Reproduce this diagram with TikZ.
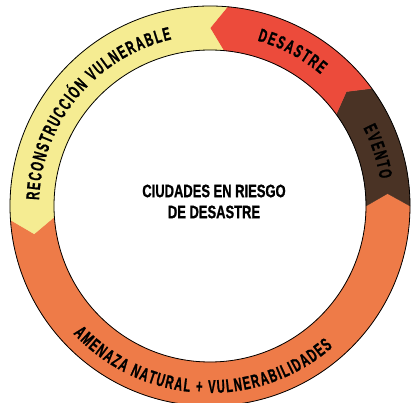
\documentclass[tikz,border=0pt]{standalone}
\usepackage{fontspec}
\usepackage{tikz}
\usetikzlibrary{decorations.text}
\newfontfamily\ringfont[FakeStretch=0.6, FakeBold=1]{Liberation Sans}
\newfontfamily\midfont[FakeStretch=0.72, FakeBold=1]{Liberation Sans}
\definecolor{ringYellow}{HTML}{F5EC92}
\definecolor{ringRed}{HTML}{EC4B3B}
\definecolor{ringBrown}{HTML}{4A3325}
\definecolor{ringOrange}{HTML}{EE7B48}
\newcommand\ringtext{\ringfont\bfseries\fontsize{18.5}{18.5}\selectfont}

\begin{document}
\begin{tikzpicture}[
    x=1pt, y=1pt,
    seg/.style={
        fill=#1,
        draw=#1,
        line width=0.3pt,
    },
    rim/.style={
        draw=black,
        line width=0.8pt,
    },
    curved/.style={
        decorate,
        decoration={
            text along path,
            text align={fit to path},
            text={|\ringtext|#1},
        },
    },
    title/.style={
        font=\midfont\bfseries\fontsize{18}{21}\selectfont,
        align=center,
        inner sep=0pt,
    },
]
\useasboundingbox (-210,-197) rectangle (204,206);

% ===== Segmentos del ciclo =====
\fill[seg=ringOrange] (184:200) arc[start angle=184, end angle=360, radius=200]
    -- (364:178) -- (360:156) arc[start angle=360, end angle=184, radius=156]
    -- (189:178) -- cycle;
\fill[seg=ringBrown] (0:200) arc[start angle=0, end angle=36, radius=200]
    -- (40:178) -- (36:156) arc[start angle=36, end angle=0, radius=156]
    -- (4:178) -- cycle;
\fill[seg=ringRed] (36:200) arc[start angle=36, end angle=85, radius=200]
    -- (90:178) -- (85:156) arc[start angle=85, end angle=36, radius=156]
    -- (40:178) -- cycle;
\fill[seg=ringYellow] (85:200) arc[start angle=85, end angle=184, radius=200]
    -- (189:178) -- (184:156) arc[start angle=184, end angle=85, radius=156]
    -- (90:178) -- cycle;

% ===== Bordes =====
\draw[rim] (0,0) circle[radius=200];
\draw[rim] (0,0) circle[radius=156];

% ===== Textos sobre el anillo =====
\path[curved=RECONSTRUCCIÓN VULNERABLE] (178:171) arc[start angle=178, end angle=103, radius=171];
\path[curved=DESASTRE] (74:172) arc[start angle=74, end angle=50, radius=172];
\path[curved=EVENTO] (27:172) arc[start angle=27, end angle=9, radius=172];
\path[curved=AMENAZA NATURAL + VULNERABILIDADES] (223:187) arc[start angle=223, end angle=311, radius=187];

% ===== Centro =====
\node[title] (ciudad) at (4,4.5) {CIUDADES EN RIESGO\\DE DESASTRE};

\end{tikzpicture}
\end{document}
